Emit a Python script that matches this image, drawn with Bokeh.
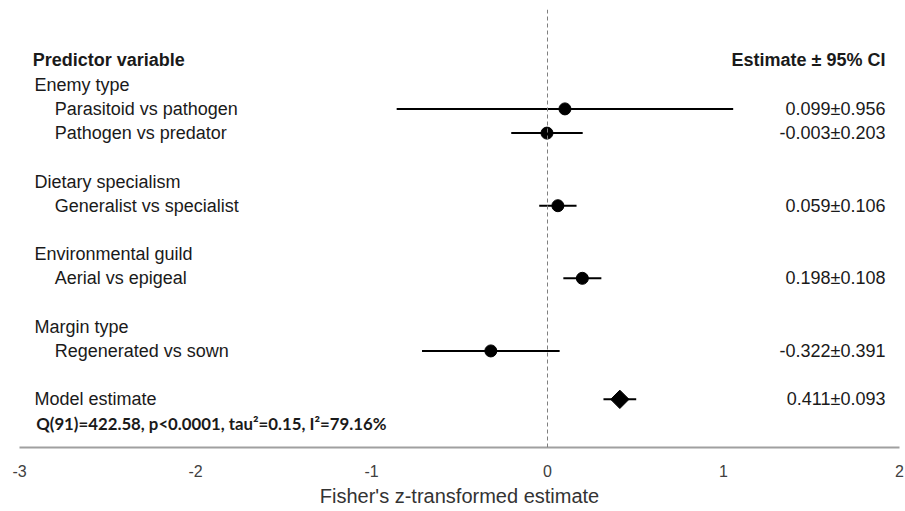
import math
from bokeh.plotting import figure
from bokeh.models import Range1d, Span, FixedTicker, ColumnDataSource
from bokeh.core.properties import value
from bokeh.embed import file_html
from bokeh.resources import INLINE

# ---------------- data ----------------
group_labels = ["Enemy type", "Dietary specialism", "Environmental guild", "Margin type", "Model estimate"]
group_rows = [1, 5, 8, 11, 14]

item_labels = ["Parasitoid vs pathogen", "Pathogen vs predator", "Generalist vs specialist",
               "Aerial vs epigeal", "Regenerated vs sown"]
item_rows = [2, 3, 6, 9, 12]
estimates = [0.099, -0.003, 0.059, 0.198, -0.322]
ci95 = [0.956, 0.203, 0.106, 0.108, 0.391]

model_row = 14
model_estimate = 0.411
model_ci95 = 0.093

stats_row = 15
stats_text = "Q(91)=422.58, p<0.0001, tau\u00b2=0.15, I\u00b2=79.16%"

header_row = 0
header_left = "Predictor variable"
header_right = "Estimate \u00b1 95% CI"

x_ticks = [-3, -2, -1, 0, 1, 2]
x_tick_labels = ["-3", "-2", "-1", "0", "1", "2"]
x_title = "Fisher's z-transformed estimate"

# ---------------- styles ----------------
FONT = "Liberation Sans"
W, H = 904, 510
LEFT_GROUP_X = -2.915
LEFT_ITEM_X = -2.80
RIGHT_X = 1.92
TXT = "#1a1a1a"

p = figure(width=W, height=H, output_backend="svg", toolbar_location=None,
           x_range=Range1d(-3, 2), y_range=Range1d(15.99, -2.107),
           min_border_left=19, min_border_right=5, min_border_top=9, min_border_bottom=63)
p.outline_line_color = None
p.grid.visible = False
p.yaxis.visible = False
p.background_fill_color = "white"
p.border_fill_color = "white"

xa = p.xaxis[0]
xa.ticker = FixedTicker(ticks=x_ticks)
xa.major_label_overrides = {t: s for t, s in zip(x_ticks, x_tick_labels)}
xa.axis_line_color = "#a0a0a0"
xa.axis_line_width = 2
xa.major_tick_line_color = None
xa.minor_tick_line_color = None
xa.major_label_text_font = FONT
xa.major_label_text_font_size = "16px"
xa.major_label_text_color = "#404040"
xa.major_label_standoff = 11
xa.axis_label = x_title
xa.axis_label_text_font = FONT
xa.axis_label_text_font_style = "normal"
xa.axis_label_text_font_size = "20px"
xa.axis_label_text_color = "#333333"
xa.axis_label_standoff = 5

p.add_layout(Span(location=0, dimension="height", line_color="#7f7f7f",
                  line_dash="4 3", line_width=1))

# error bars
src = ColumnDataSource(dict(
    y=item_rows, est=estimates,
    lo=[e - c for e, c in zip(estimates, ci95)],
    hi=[e + c for e, c in zip(estimates, ci95)],
    lab=item_labels,
    txt=[f"{e:.3f}\u00b1{c:.3f}" for e, c in zip(estimates, ci95)],
))
p.segment(x0="lo", x1="hi", y0="y", y1="y", source=src, line_color="black", line_width=2)
p.scatter(x="est", y="y", source=src, size=12, marker="circle",
          fill_color="black", line_color="black")

p.segment(x0=[model_estimate - model_ci95], x1=[model_estimate + model_ci95],
          y0=[model_row], y1=[model_row], line_color="black", line_width=2)
p.scatter(x=[model_estimate], y=[model_row], marker="square", angle=math.pi / 4,
          size=13, fill_color="black", line_color="black")

# texts
p.text(x=[LEFT_GROUP_X - 0.01], y=[header_row], text=[header_left], text_font=value(FONT),
       text_font_style="bold", text_font_size="18px", text_baseline="middle", text_color=TXT)
p.text(x=[RIGHT_X], y=[header_row], text=[header_right], text_font=value(FONT),
       text_font_style="bold", text_font_size="18px", text_baseline="middle",
       text_align="right", text_color=TXT)
p.text(x=[LEFT_GROUP_X] * len(group_rows), y=group_rows, text=group_labels,
       text_font=value(FONT), text_font_size="18px", text_baseline="middle", text_color=TXT)
p.text(x=LEFT_ITEM_X, y="y", text="lab", source=src,
       text_font=value(FONT), text_font_size="18px", text_baseline="middle", text_color=TXT)
p.text(x=RIGHT_X, y="y", text="txt", source=src, text_align="right",
       text_font=value(FONT), text_font_size="18px", text_baseline="middle", text_color=TXT)
p.text(x=[RIGHT_X], y=[model_row], text=[f"{model_estimate:.3f}\u00b1{model_ci95:.3f}"],
       text_align="right", text_font=value(FONT), text_font_size="18px",
       text_baseline="middle", text_color=TXT)
p.text(x=[LEFT_GROUP_X + 0.01], y=[stats_row], text=[stats_text], text_font=value("Lato"),
       text_font_style="bold", text_font_size="16.8px", text_baseline="middle", text_color=TXT)

open("out.html", "w").write(file_html(p, INLINE))
